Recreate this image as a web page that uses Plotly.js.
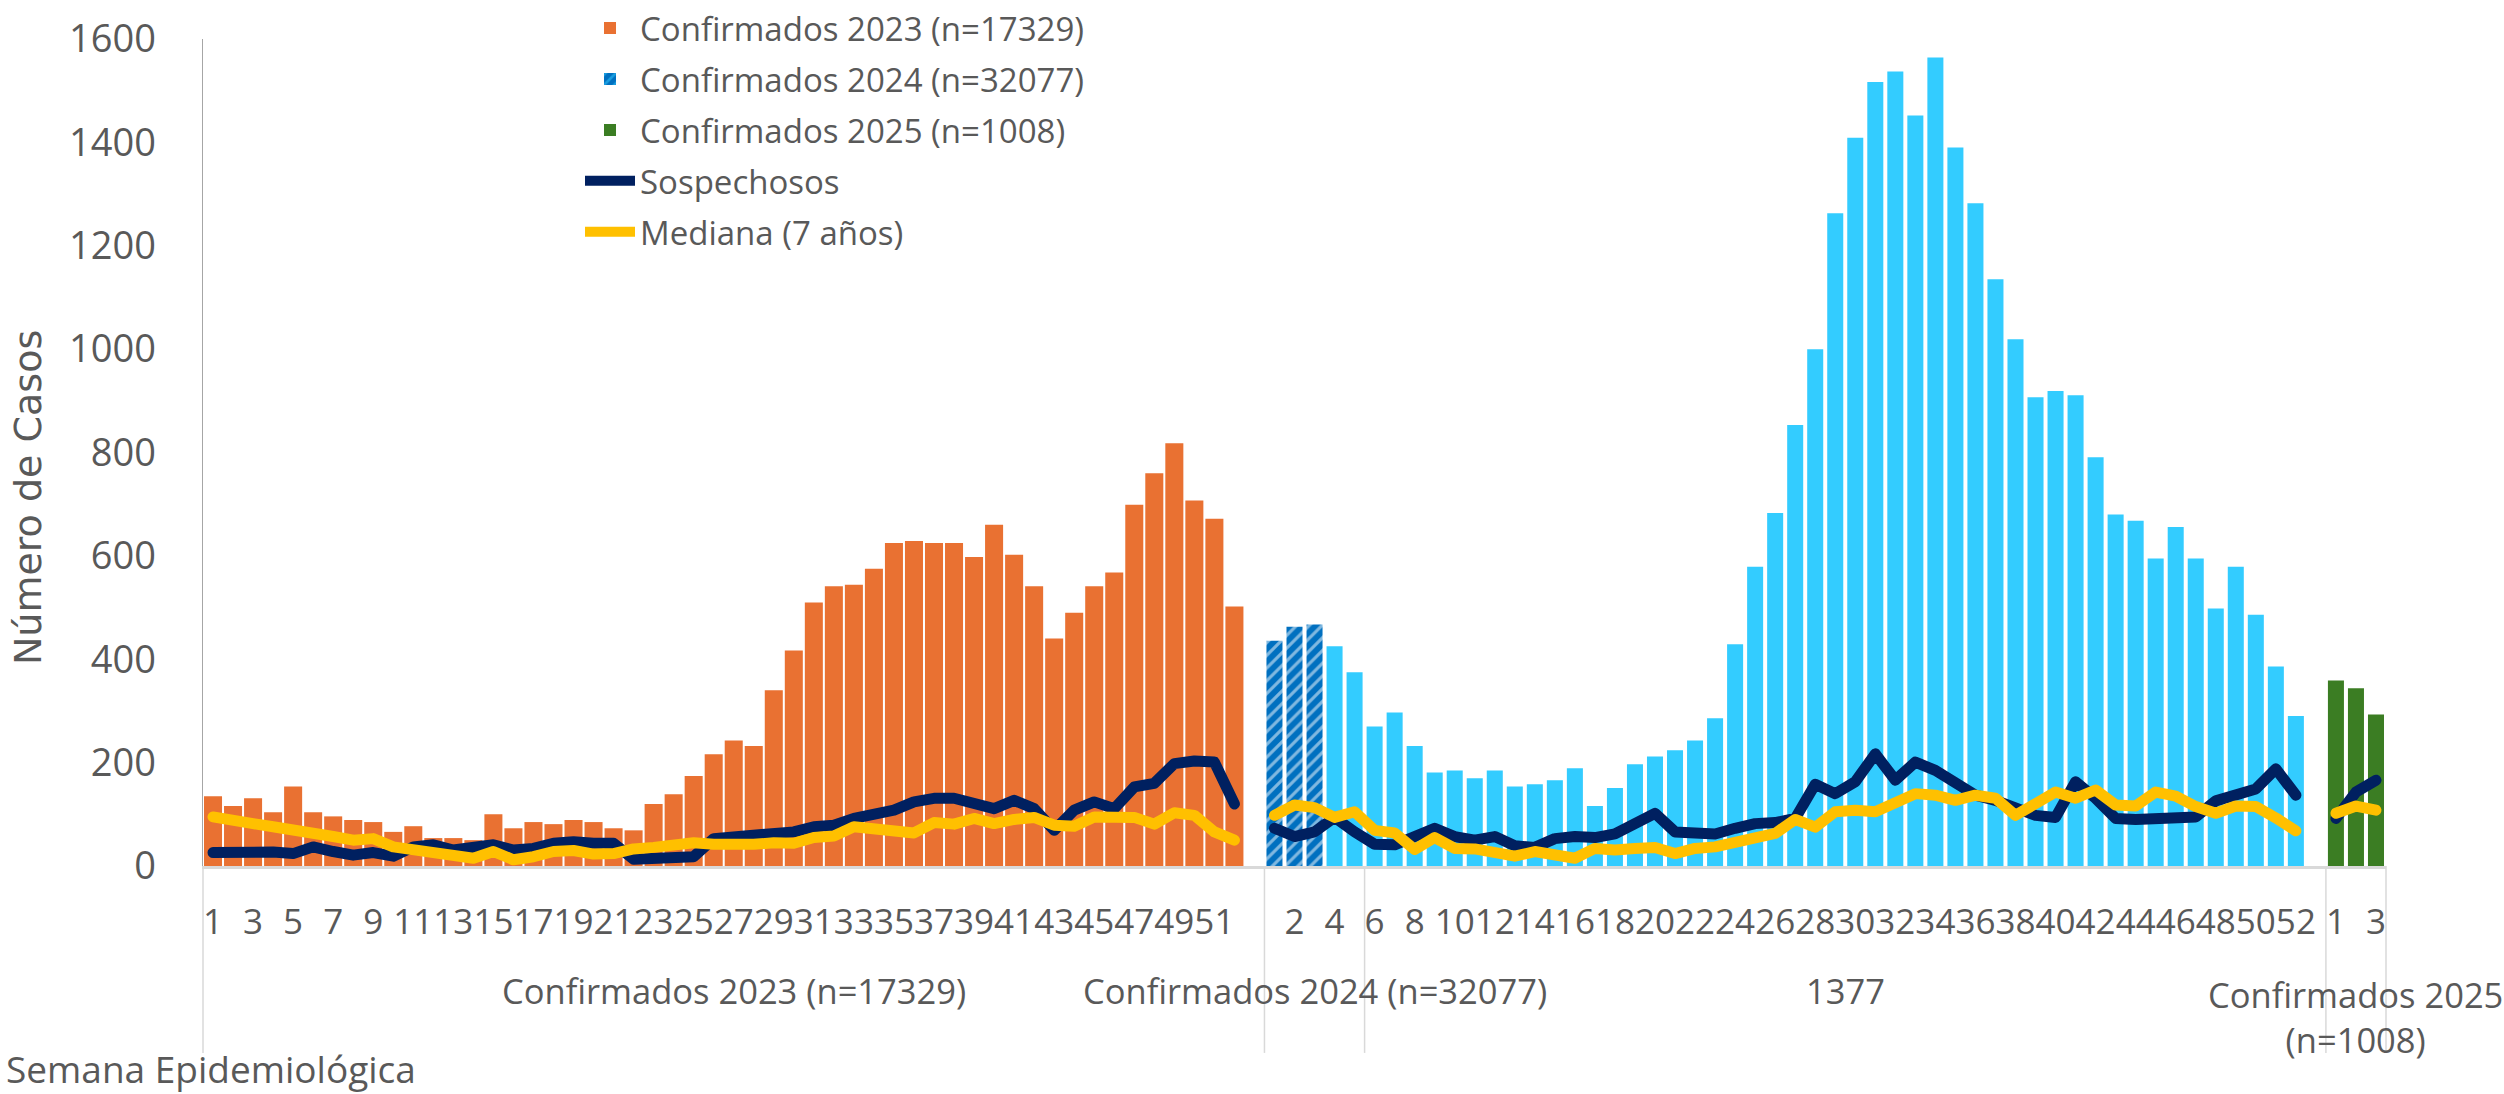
<!DOCTYPE html>
<html><head><meta charset="utf-8">
<script src="https://cdn.plot.ly/plotly-3.0.1.min.js"></script>
<style>
html,body{margin:0;padding:0;background:#fff;}
#chart{width:2504px;height:1094px;}
.scatterlayer .js-line{stroke-linejoin:round;stroke-linecap:round;}
</style></head><body><div id="chart"></div>
<script>
// ---- data ----
const weeks2023 = [1,2,3,4,5,6,7,8,9,10,11,12,13,14,15,16,17,18,19,20,21,22,23,24,25,26,27,28,29,30,31,32,33,34,35,36,37,38,39,40,41,42,43,44,45,46,47,48,49,50,51,52];
const weeks2024 = [1,2,3,4,5,6,7,8,9,10,11,12,13,14,15,16,17,18,19,20,21,22,23,24,25,26,27,28,29,30,31,32,33,34,35,36,37,38,39,40,41,42,43,44,45,46,47,48,49,50,51,52];
const weeks2025 = [1,2,3];

const confirmados2023 = [135,116,131,104,154,104,96,89,85,66,77,54,54,50,100,73,85,81,89,85,73,69,120,139,174,216,243,232,340,417,510,541,544,575,625,629,625,625,598,660,602,541,440,490,541,568,699,760,818,707,672,502];
const confirmados2024 = [436,463,467,425,375,270,297,232,181,185,170,185,154,158,166,189,116,151,197,212,224,243,286,429,579,683,853,1000,1263,1409,1517,1537,1452,1564,1390,1282,1135,1019,907,919,911,791,680,668,595,656,595,498,579,486,386,290];
const confirmados2025 = [359,344,293];

const sospechosos2023 = [26,28,26,27,24,37,28,21,26,19,37,41,31,37,41,31,34,44,47,44,44,13,16,19,18,53,55,58,64,66,76,79,92,102,108,124,131,131,121,111,127,111,69,108,124,111,153,160,198,203,201,120];
const sospechosos2024 = [73,57,66,94,66,42,41,58,73,57,50,57,39,36,53,57,55,62,84,102,66,63,62,73,82,84,92,158,140,163,217,166,201,185,161,137,127,111,98,94,163,131,92,90,92,90,95,126,138,149,188,137];
const sospechosos2025 = [92,143,166];

const mediana2023 = [95,86,82,76,71,63,57,50,53,37,31,28,21,15,28,12,18,28,30,23,24,33,36,39,45,42,41,42,45,44,55,58,76,71,69,64,84,81,92,82,90,94,79,77,95,97,94,81,103,98,66,50];
const mediana2024 = [98,118,113,94,105,69,64,32,55,34,33,28,19,28,24,15,34,31,34,36,24,34,37,45,58,63,90,75,105,108,105,122,140,137,127,137,131,98,118,143,131,147,118,116,143,135,115,102,116,115,93,68];
const mediana2025 = [102,116,108];

const seriesNames = ['Confirmados 2023 (n=17329)','Confirmados 2024 (n=32077)','Confirmados 2025 (n=1008)','Sospechosos','Mediana (7 años)'];
const groupLabels = ['Confirmados 2023 (n=17329)','Confirmados 2024 (n=32077)','1377','Confirmados 2025 (n=1008)'];
const hatchedWeeks2024 = [1,2,3];
const groupBSplitWeek = 6;   // 2024 weeks before this sit in the second group
const axisTitleX = 'Semana Epidemiológica';
const axisTitleY = 'Número de Casos';

// ---- categories (multi-level axis emulation) ----
const cats = [], catLabels = [], catGroup = [];
weeks2023.forEach(w => { cats.push('2023-' + w); catLabels.push(String(w)); catGroup.push(0); });
cats.push('2023-gap'); catLabels.push(''); catGroup.push(0);
weeks2024.forEach(w => { cats.push('2024-' + w); catLabels.push(String(w)); catGroup.push(w < groupBSplitWeek ? 1 : 2); });
cats.push('2024-gap'); catLabels.push(''); catGroup.push(2);
weeks2025.forEach(w => { cats.push('2025-' + w); catLabels.push(String(w)); catGroup.push(3); });
const N = cats.length;

const ids2023 = weeks2023.map(w => '2023-' + w);
const ids2024 = weeks2024.map(w => '2024-' + w);
const ids2025 = weeks2025.map(w => '2025-' + w);

function lineSeries(a, b, c) {
  const m = {};
  ids2023.forEach((id, i) => m[id] = a[i]);
  ids2024.forEach((id, i) => m[id] = b[i]);
  ids2025.forEach((id, i) => m[id] = c[i]);
  return cats.map(id => (id in m ? m[id] : null));
}

const C_ORANGE = '#E97132', C_LB = '#33CCFF', C_DB = '#0070C0', C_GREEN = '#3B7D23', C_NAVY = '#002060', C_YEL = '#FFC000', C_TEXT = '#595959';
const FONT = 'Open Sans, Liberation Sans, sans-serif';

const hatch = weeks2024.map(w => hatchedWeeks2024.includes(w));

const traces = [
  {type:'bar', name:seriesNames[0], x:ids2023, y:confirmados2023, marker:{color:C_ORANGE}, width:0.9, legendgroup:'a'},
  {type:'bar', name:seriesNames[1], x:ids2024, y:confirmados2024, width:0.8, legendgroup:'b',
    marker:{color:hatch.map(h => h ? C_DB : C_LB),
      pattern:{shape:hatch.map(h => h ? '/' : ''), bgcolor:hatch.map(h => h ? C_DB : C_LB), fgcolor:C_LB, size:9, solidity:0.35, fillmode:'overlay'}}},
  {type:'bar', name:seriesNames[2], x:ids2025, y:confirmados2025, marker:{color:C_GREEN}, width:0.8, legendgroup:'c'},
  {type:'scatter', mode:'lines', name:seriesNames[3], x:cats, y:lineSeries(sospechosos2023, sospechosos2024, sospechosos2025),
    line:{color:C_NAVY, width:11}, connectgaps:false, legendgroup:'d'},
  {type:'scatter', mode:'lines', name:seriesNames[4], x:cats, y:lineSeries(mediana2023, mediana2024, mediana2025),
    line:{color:C_YEL, width:11}, connectgaps:false, legendgroup:'e'}
];

// tick labels: every other category, as in the original
const tickvals = [], ticktext = [];
for (let i = 0; i < N; i += 2) { tickvals.push(cats[i]); ticktext.push(catLabels[i]); }

// group separators and labels
const groupFirst = [], groupLast = [];
catGroup.forEach((g, i) => { if (groupFirst[g] === undefined) groupFirst[g] = i; groupLast[g] = i; });
const sepY = -0.226;
const shapes = [];
const bounds = [0];
groupLabels.forEach((_, g) => bounds.push(groupLast[g] + 1));
bounds.forEach(b => shapes.push({type:'line', xref:'paper', yref:'paper', x0:b / N, x1:b / N, y0:0, y1:sepY, line:{color:'#D9D9D9', width:1.5}}));

const annotations = groupLabels.map((t, g) => {
  const c = (groupFirst[g] + groupLast[g] + 1) / 2 / N;
  let txt = t;
  if (g === 3) txt = t.replace(' (', '<br>(');
  return {xref:'paper', yref:'paper', x:c, y:-0.150, xanchor:'center', yanchor:(g === 3 ? 'top' : 'middle'), yshift:(g===3?21:0), text:txt, showarrow:false, font:{family:FONT, size:34.5, color:C_TEXT}};
});
annotations.push({xref:'paper', yref:'paper', x:-0.0912, y:-0.2443, xanchor:'left', yanchor:'middle', text:axisTitleX, showarrow:false, font:{family:FONT, size:37, color:C_TEXT}});
annotations.push({xref:'paper', yref:'paper', x:-0.0802, y:0.446, xanchor:'center', yanchor:'middle', textangle:-90, text:axisTitleY, showarrow:false, font:{family:'DejaVu Sans, sans-serif', size:38, color:C_TEXT}});

const layout = {
  width:2504, height:1094,
  margin:{l:203, r:118, t:39, b:228, autoexpand:false},
  paper_bgcolor:'#fff', plot_bgcolor:'#fff',
  barmode:'overlay',
  showlegend:true,
  legend:{x:0.1727, y:1.047, xanchor:'left', yanchor:'top', font:{family:FONT, size:33, color:C_TEXT}, bgcolor:'rgba(0,0,0,0)', tracegroupgap:5, itemwidth:50, traceorder:'grouped'},
  xaxis:{type:'category', categoryorder:'array', categoryarray:cats, range:[-0.5, N - 0.5],
    tickmode:'array', tickvals:tickvals, ticktext:ticktext, tickangle:0, ticks:'', ticklabelstandoff:23,
    showline:true, linecolor:'#D9D9D9', linewidth:3, showgrid:false, zeroline:false,
    tickfont:{family:FONT, size:35, color:C_TEXT}},
  yaxis:{range:[0,1600], dtick:200, tick0:0, showgrid:false, zeroline:false, showline:true, linecolor:'#A6A6A6', linewidth:1.5,
    ticks:'', ticklabelstandoff:38, tickfont:{family:FONT, size:38, color:C_TEXT}},
  shapes:shapes, annotations:annotations
};

Plotly.newPlot('chart', traces, layout, {staticPlot:true, displayModeBar:false});
</script></body></html>
